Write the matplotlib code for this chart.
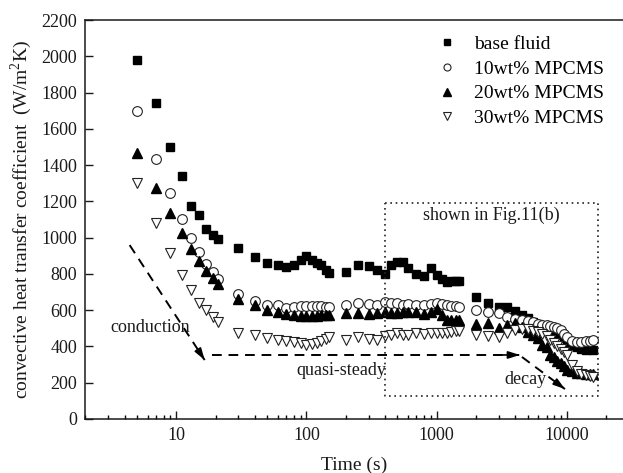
import matplotlib
matplotlib.use("Agg")
import matplotlib.pyplot as plt
from matplotlib.ticker import LogLocator, FixedLocator, NullFormatter, FixedFormatter

plt.rcParams['font.family'] = ['Liberation Serif', 'DejaVu Serif']
plt.rcParams['mathtext.fontset'] = 'custom'
plt.rcParams['mathtext.rm'] = 'Liberation Serif'

# sampling times (s)
time_s = [5, 7, 9, 11, 13, 15, 17, 19, 21,
          30, 40, 50, 60, 70, 80, 90, 100, 110, 120, 130, 140, 150,
          200, 250, 300, 350, 400, 450, 500, 550, 600, 700, 800, 900, 1000,
          1100, 1200, 1300, 1400, 1500,
          2000, 2500, 3000, 3500, 4000, 4500, 5000, 5500, 6000, 6500, 7000,
          7500, 8000, 8500, 9000, 9500, 10000, 11000, 12000, 13000, 14000,
          15000, 16000]

# convective heat transfer coefficient (W/m2K)
base_fluid = [1979, 1744, 1498, 1340, 1176, 1127, 1049, 1013, 991,
              941, 895, 862, 847, 840, 849, 877, 899, 877, 860, 849, 822, 803,
              812, 849, 844, 822, 798, 849, 867, 867, 831, 800, 788, 831, 794,
              770, 757, 760, 762, 760,
              671, 641, 619, 617, 595, 573, 555, 537, 525, 509, 495,
              481, 472, 468, 463, 445, 426, 410, 399, 385, 380,
              384, 382]

mpcms_10 = [1698, 1434, 1245, 1103, 996, 919, 855, 809, 774,
            690, 649, 630, 627, 612, 617, 623, 625, 625, 625, 625, 619, 619,
            629, 638, 634, 629, 645, 641, 638, 629, 634, 629, 629, 634, 641,
            635, 629, 625, 623, 620,
            601, 592, 583, 564, 553, 546, 542, 533, 526, 520, 516,
            512, 507, 500, 491, 470, 454, 430, 426, 426, 430,
            432, 435]

mpcms_20 = [1465, 1272, 1134, 1024, 936, 871, 818, 776, 743,
            661, 626, 603, 588, 578, 572, 570, 570, 570, 570, 572, 574, 574,
            583, 586, 579, 583, 588, 583, 586, 590, 592, 592, 579, 592, 605,
            575, 546, 546, 546, 548,
            524, 527, 500, 518, 527, 505, 481, 462, 445, 408, 399,
            353, 340, 320, 307, 290, 270, 262, 256, 252, 250,
            250, 248]

mpcms_30 = [1303, 1083, 914, 794, 711, 641, 601, 564, 537,
            473, 461, 445, 436, 432, 427, 417, 408, 412, 420, 430, 440, 450,
            436, 450, 440, 436, 460, 465, 472, 463, 463, 472, 470, 472, 474,
            476, 476, 480, 487, 487,
            463, 458, 454, 472, 490, 498, 497, 485, 478, 470, 455,
            436, 420, 400, 385, 370, 353, 300, 265, 250, 243,
            236, 233]

series_labels = ['base fluid', '10wt% MPCMS', '20wt% MPCMS', '30wt% MPCMS']

fig = plt.figure(figsize=(6.23, 4.73), dpi=100)
ax = fig.add_axes([0.1372, 0.1142, 0.8628, 0.8435])

ax.plot(time_s, base_fluid, linestyle='none', marker='s', markersize=6.4,
        color='black', label=series_labels[0])
ax.plot(time_s, mpcms_10, linestyle='none', marker='o', markersize=7.0,
        markerfacecolor='white', markeredgecolor='#222222', markeredgewidth=0.8,
        label=series_labels[1])
ax.plot(time_s, mpcms_20, linestyle='none', marker='^', markersize=7.4,
        color='black', label=series_labels[2])
ax.plot(time_s, mpcms_30, linestyle='none', marker='v', markersize=7.4,
        markerfacecolor='white', markeredgecolor='#222222', markeredgewidth=0.8,
        label=series_labels[3])

ax.set_xscale('log')
ax.set_xlim(2, 27100)
ax.set_ylim(0, 2200)

ax.xaxis.set_major_locator(FixedLocator([10, 100, 1000, 10000]))
ax.xaxis.set_major_formatter(FixedFormatter(['10', '100', '1000', '10000']))
ax.xaxis.set_minor_locator(LogLocator(base=10, subs=range(2, 10), numticks=20))
ax.xaxis.set_minor_formatter(NullFormatter())
ax.set_yticks(range(0, 2201, 200))

ax.tick_params(axis='both', which='major', direction='in', length=6, width=1.0,
               labelsize=13, colors='#1a1a1a', pad=6)
ax.tick_params(axis='x', which='minor', direction='in', length=3.2, width=1.0)
ax.tick_params(top=False, right=False, which='both')

for side in ('left', 'bottom', 'top'):
    ax.spines[side].set_linewidth(1.1)
    ax.spines[side].set_color('#1a1a1a')
ax.spines['right'].set_visible(False)

ax.set_xlabel('Time (s)', fontsize=14, labelpad=9, color='#1a1a1a')
ax.set_ylabel(r'convective heat transfer coefficient  (W/m$^\mathregular{2}$K)',
              fontsize=14, labelpad=5, color='#1a1a1a')

leg = ax.legend(loc='upper left', bbox_to_anchor=(0.625, 0.995), frameon=False,
                fontsize=14, markerscale=0.72, handletextpad=0.8,
                labelspacing=0.36, handlelength=1.2, borderaxespad=0.3)

# dotted region
box_x = [400, 17500, 17500, 400, 400]
box_y = [1193, 1193, 127, 127, 1193]
ax.plot(box_x, box_y, linestyle=(0, (1, 2.2)), color='#222222', linewidth=1.2)
ax.text(2650, 1125, 'shown in Fig.11(b)', fontsize=13, ha='center',
        va='center', color='#1a1a1a')


def dashed_arrow(x0, y0, x1, y1):
    ax.plot([x0, x1], [y0, y1], linestyle=(0, (5, 3.5)), color='black',
            linewidth=1.4)
    xs = x0 * (x1 / x0) ** 0.92
    ys = y0 + 0.92 * (y1 - y0)
    ax.annotate('', xy=(x1, y1), xytext=(xs, ys),
                arrowprops=dict(arrowstyle='-|>,head_length=0.7,head_width=0.22',
                                color='black', lw=1.2, shrinkA=0, shrinkB=0))


dashed_arrow(4.37, 959, 16.5, 325)
dashed_arrow(18.7, 353, 4375, 353)
dashed_arrow(4530, 342, 9700, 165)

ax.text(6.24, 507, 'conduction', fontsize=13, ha='center', va='center',
        color='#1a1a1a')
ax.text(183.6, 270, 'quasi-steady', fontsize=13, ha='center', va='center',
        color='#1a1a1a')
ax.text(4840, 220, 'decay', fontsize=13, ha='center', va='center',
        color='#1a1a1a')

fig.savefig('out.png', dpi=100)
